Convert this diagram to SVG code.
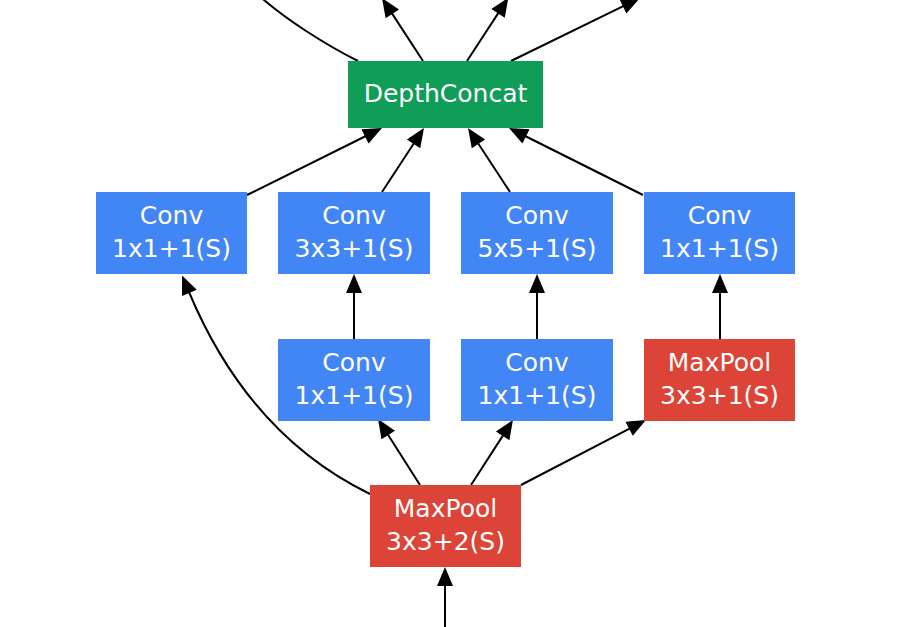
<svg xmlns="http://www.w3.org/2000/svg" width="900" height="627" viewBox="0 0 900 627">
<style>
.t{font-family:"DejaVu Sans",sans-serif;font-size:25px;fill:#ffffff;text-anchor:middle}
.e{fill:none;stroke:#000;stroke-width:2;marker-end:url(#ah)}
.b{fill:#4285f4}.r{fill:#db4437}.g{fill:#0f9d58}
</style>
<defs>
<marker id="ah" markerUnits="userSpaceOnUse" markerWidth="20" markerHeight="17" refX="1" refY="8" orient="auto" overflow="visible">
<path d="M0,0 L19,8 L0,16 z" fill="#000"/>
</marker>
</defs>
<rect width="900" height="627" fill="#fff"/>
<g id="connectors">
<path class="e" d="M445,640 L445,585"/>
<path class="e" d="M420,485 L387.7,434.2"/>
<path class="e" d="M471,485 L503.2,435.1"/>
<path class="e" d="M521,485 L630,428.3"/>
<path class="e" d="M370,494 C290,455 230,390 189,292"/>
<path class="e" d="M354,339 L354,292"/>
<path class="e" d="M537,339 L537,292"/>
<path class="e" d="M720,339 L720,292"/>
<path class="e" d="M247,195 L365.9,136"/>
<path class="e" d="M382,192 L414.1,143"/>
<path class="e" d="M510,192 L477.9,143"/>
<path class="e" d="M643,195 L525.1,136"/>
<path class="e" d="M423,61 L391.8,13.1"/>
<path class="e" d="M467,61 L498.6,12.6"/>
<path class="e" d="M511,61 L623.8,5.9"/>
<path fill="none" stroke="#000" stroke-width="2" d="M358,61 C330,47 285,20 255,-8"/>
</g>
<g id="depthconcat"><rect class="g" x="348" y="61" width="195" height="67"/><text class="t" x="445.5" y="102">DepthConcat</text></g>
<g id="conv_a"><rect class="b" x="96" y="192" width="151" height="82"/><text class="t" x="171.5" y="224">Conv</text><text class="t" x="171.5" y="257">1x1+1(S)</text></g>
<g id="conv_b"><rect class="b" x="278" y="192" width="152" height="82"/><text class="t" x="354" y="224">Conv</text><text class="t" x="354" y="257">3x3+1(S)</text></g>
<g id="conv_c"><rect class="b" x="461" y="192" width="152" height="82"/><text class="t" x="537" y="224">Conv</text><text class="t" x="537" y="257">5x5+1(S)</text></g>
<g id="conv_d"><rect class="b" x="644" y="192" width="151" height="82"/><text class="t" x="719.5" y="224">Conv</text><text class="t" x="719.5" y="257">1x1+1(S)</text></g>
<g id="conv_e"><rect class="b" x="278" y="339" width="152" height="82"/><text class="t" x="354" y="371">Conv</text><text class="t" x="354" y="404">1x1+1(S)</text></g>
<g id="conv_f"><rect class="b" x="461" y="339" width="152" height="82"/><text class="t" x="537" y="371">Conv</text><text class="t" x="537" y="404">1x1+1(S)</text></g>
<g id="maxpool_a"><rect class="r" x="644" y="339" width="151" height="82"/><text class="t" x="719.5" y="371">MaxPool</text><text class="t" x="719.5" y="404">3x3+1(S)</text></g>
<g id="maxpool_b"><rect class="r" x="370" y="485" width="151" height="82"/><text class="t" x="445.5" y="517">MaxPool</text><text class="t" x="445.5" y="550">3x3+2(S)</text></g>
</svg>
